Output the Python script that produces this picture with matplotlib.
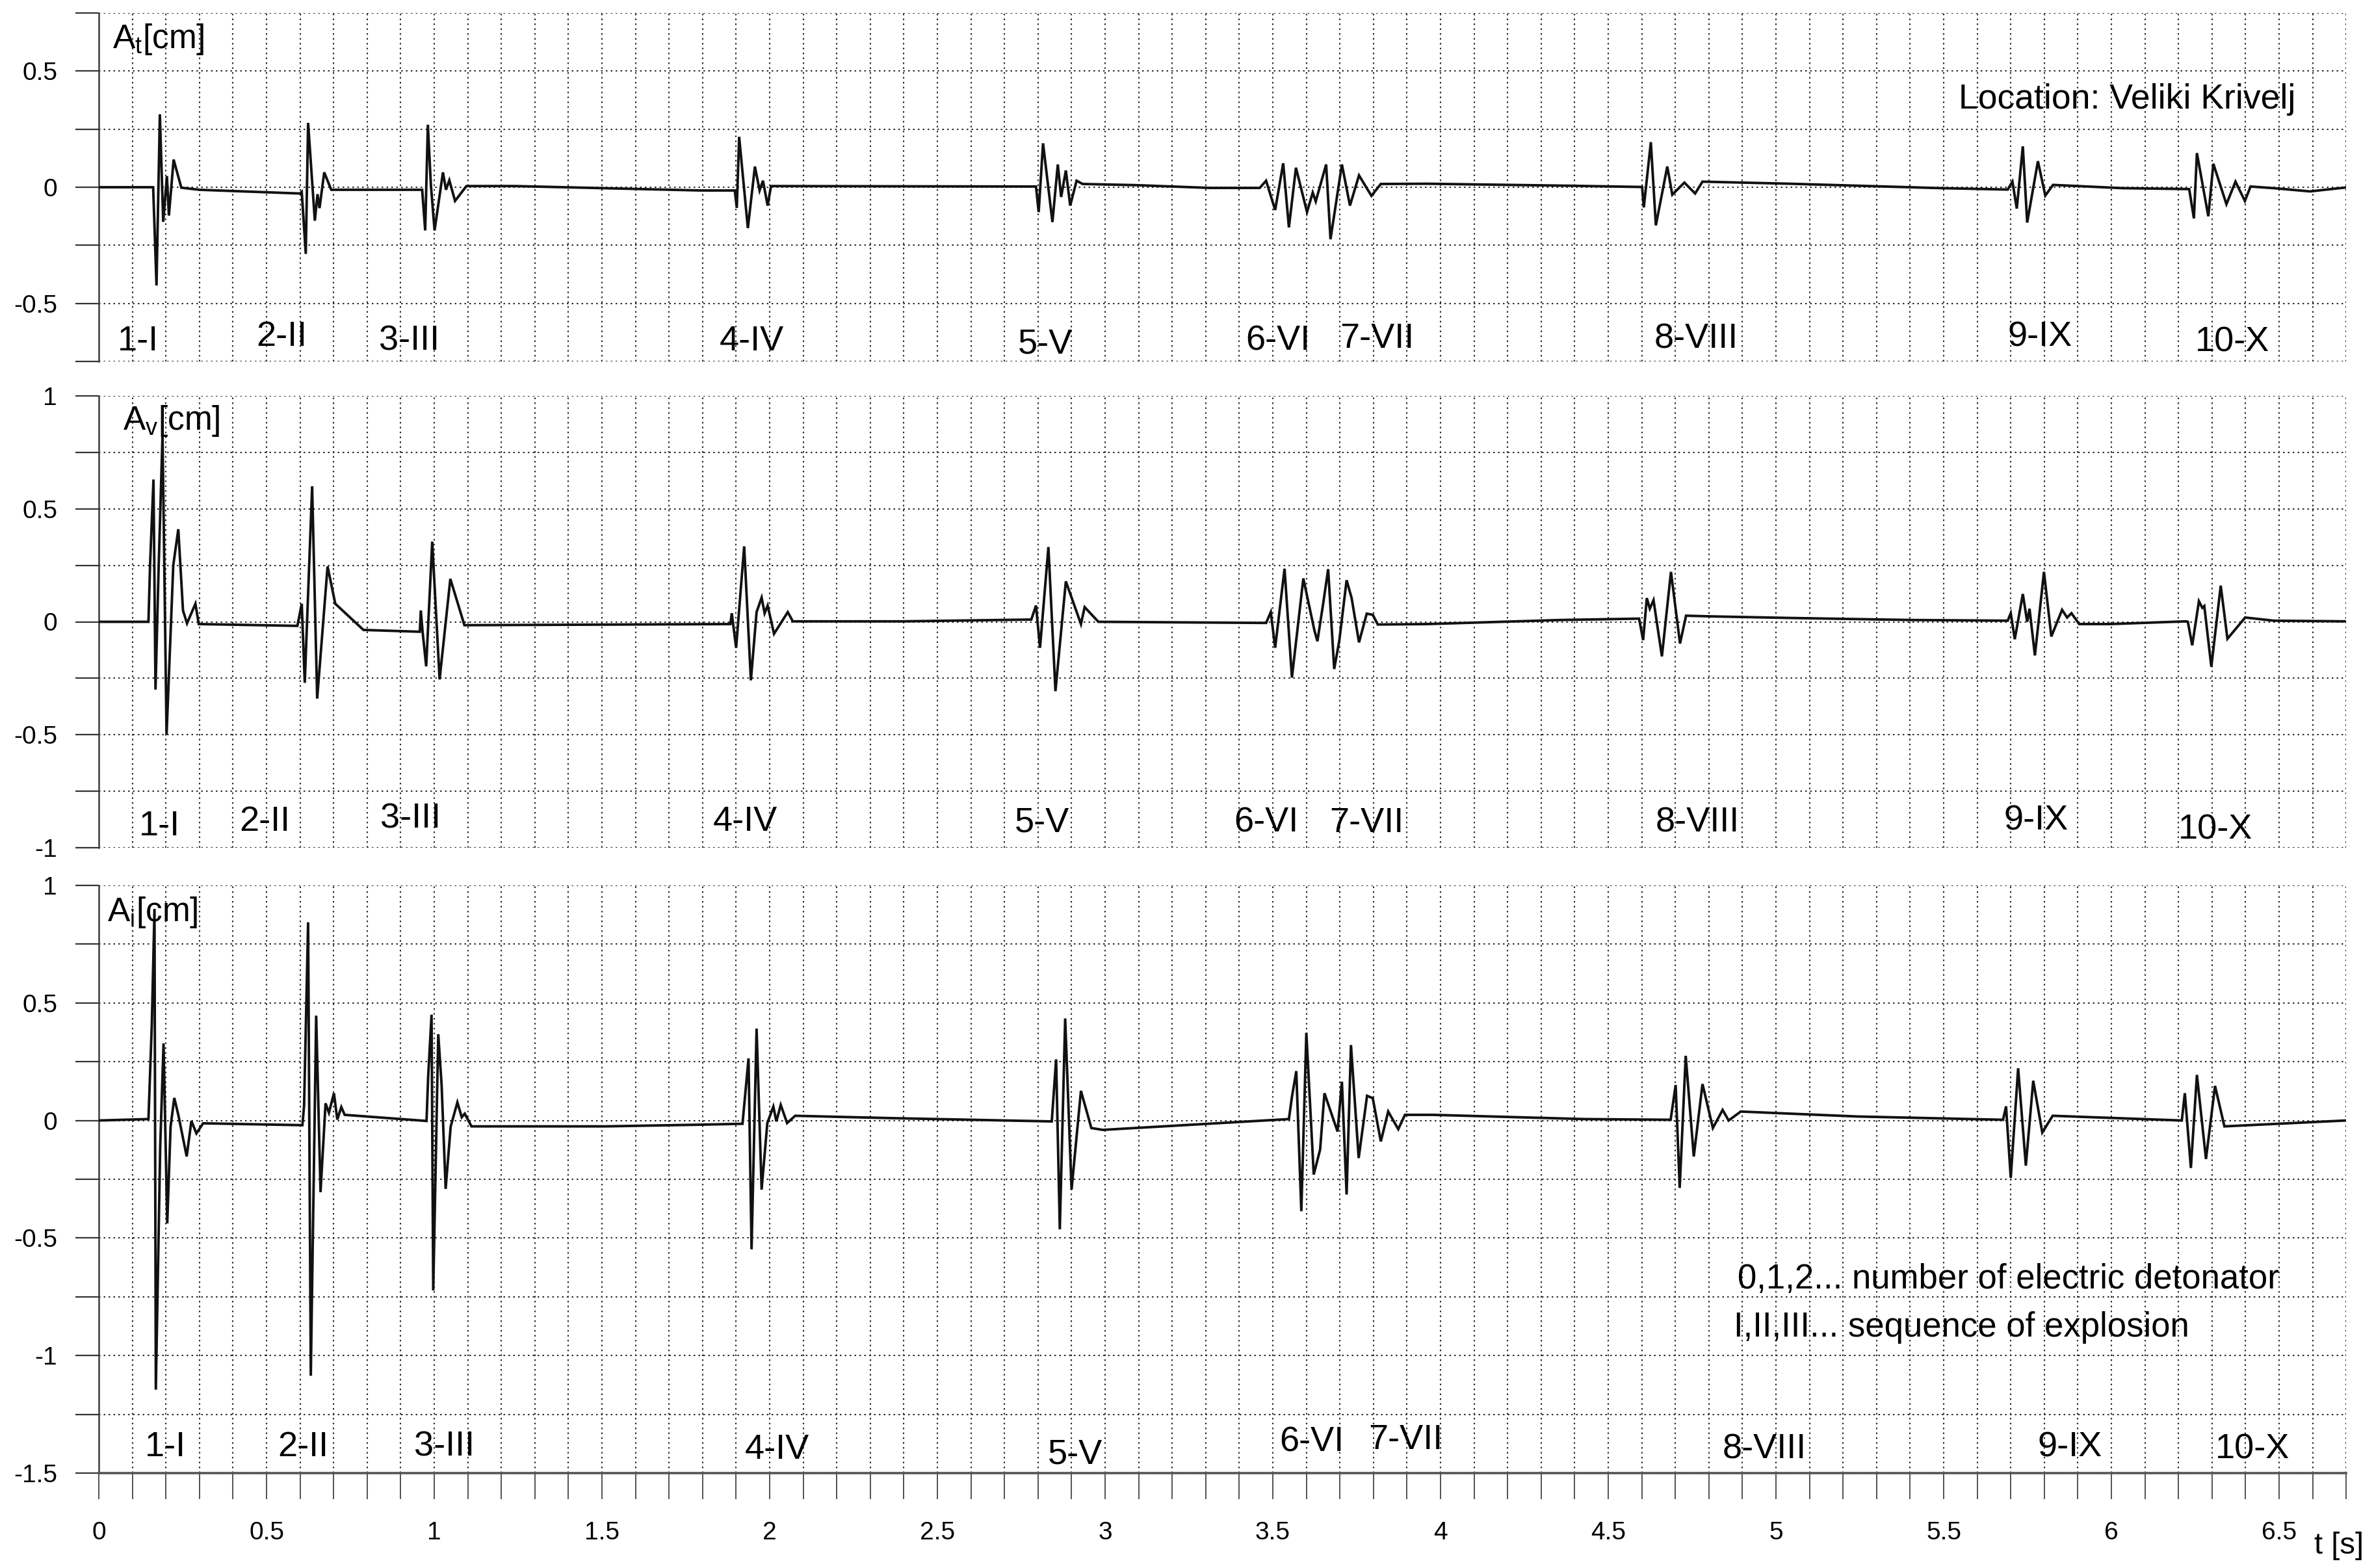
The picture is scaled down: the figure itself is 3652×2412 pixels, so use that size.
import matplotlib
matplotlib.use("Agg")
import matplotlib.pyplot as plt
from matplotlib.ticker import MultipleLocator, FuncFormatter

plt.rcParams['font.family'] = ['Liberation Sans', 'DejaVu Sans']
plt.rcParams['mathtext.fontset'] = 'custom'
plt.rcParams['mathtext.rm'] = 'Liberation Sans'
plt.rcParams['mathtext.default'] = 'regular'

# --- traced seismograms (time in s, amplitude in cm), one event per row ---
t_at = [0.000, 0.162,
        0.172, 0.182, 0.192, 0.203, 0.209, 0.223, 0.246, 0.300, 0.600,
        0.605, 0.617, 0.624, 0.644, 0.652, 0.658, 0.672, 0.693, 0.964,
        0.973, 0.981, 0.990, 1.001, 1.026, 1.035, 1.045, 1.062, 1.096, 1.240, 1.794, 1.896,
        1.902, 1.909, 1.935, 1.956, 1.970, 1.980, 1.994, 2.004, 2.794,
        2.802, 2.815, 2.843, 2.859, 2.869, 2.883, 2.896, 2.915, 2.933, 3.091, 3.313, 3.461,
        3.480, 3.507, 3.531, 3.548, 3.569, 3.602, 3.619, 3.628, 3.659, 3.672, 3.706, 3.730,
        3.757, 3.794, 3.822, 3.961, 4.403, 4.601,
        4.606, 4.627, 4.642, 4.676, 4.691, 4.727, 4.759, 4.781, 5.042, 5.493, 5.691,
        5.705, 5.718, 5.736, 5.749, 5.781, 5.803, 5.826, 6.033, 6.232,
        6.246, 6.255, 6.289, 6.304, 6.343, 6.370, 6.398, 6.415, 6.484, 6.592, 6.700]
a_at = [0.000, 0.000,
        -0.423, 0.314, -0.149, 0.048, -0.122, 0.119, -0.002, -0.011, -0.027,
        -0.020, -0.287, 0.277, -0.144, -0.030, -0.090, 0.064, -0.011, -0.011,
        -0.186, 0.269, 0.010, -0.186, 0.064, -0.011, 0.030, -0.059, 0.005, 0.005, -0.014, -0.014,
        -0.089, 0.217, -0.176, 0.089, -0.014, 0.028, -0.079, 0.005, 0.003,
        -0.107, 0.189, -0.150, 0.098, -0.042, 0.072, -0.079, 0.028, 0.014, 0.009, -0.003, -0.003,
        0.028, -0.098, 0.103, -0.173, 0.084, -0.107, -0.023, -0.061, 0.098, -0.224, 0.098, -0.079,
        0.051, -0.037, 0.014, 0.015, 0.006, 0.001,
        -0.087, 0.194, -0.164, 0.089, -0.032, 0.020, -0.027, 0.024, 0.015, -0.004, -0.010,
        0.024, -0.092, 0.176, -0.152, 0.112, -0.036, 0.010, -0.004, -0.008,
        -0.134, 0.147, -0.125, 0.101, -0.073, 0.024, -0.059, 0.003, -0.004, -0.018, -0.001]

t_av = [0.000, 0.148,
        0.153, 0.163, 0.169, 0.178, 0.190, 0.202, 0.222, 0.237, 0.251, 0.263, 0.288, 0.298, 0.592,
        0.605, 0.614, 0.636, 0.651, 0.682, 0.705, 0.789, 0.957,
        0.960, 0.965, 0.976, 0.994, 1.016, 1.048, 1.090, 1.883,
        1.887, 1.900, 1.924, 1.944, 1.961, 1.976, 1.985, 1.994, 2.013, 2.054, 2.069, 2.396, 2.780,
        2.794, 2.806, 2.831, 2.852, 2.883, 2.928, 2.939, 2.980, 3.480,
        3.494, 3.507, 3.535, 3.557, 3.591, 3.624, 3.633, 3.650, 3.665, 3.683, 3.698, 3.720,
        3.735, 3.757, 3.780, 3.798, 3.813, 3.961, 4.358, 4.592,
        4.604, 4.615, 4.624, 4.635, 4.660, 4.687, 4.714, 4.732, 4.807, 5.042, 5.403, 5.691,
        5.700, 5.712, 5.736, 5.749, 5.756, 5.772, 5.799, 5.821, 5.853, 5.868, 5.881, 5.904, 5.997, 6.223,
        6.228, 6.241, 6.261, 6.271, 6.277, 6.298, 6.326, 6.346, 6.399, 6.484, 6.700]
a_av = [0.000, 0.000,
        0.260, 0.630, -0.300, 0.220, 0.830, -0.500, 0.250, 0.410, 0.050, -0.007, 0.080, -0.010, -0.018,
        0.080, -0.270, 0.600, -0.340, 0.245, 0.080, -0.036, -0.044,
        0.050, -0.040, -0.197, 0.355, -0.255, 0.190, -0.015, -0.010,
        0.038, -0.115, 0.334, -0.259, 0.043, 0.107, 0.038, 0.072, -0.053, 0.043, 0.002, 0.002, 0.010,
        0.072, -0.115, 0.331, -0.307, 0.179, -0.010, 0.065, 0.000, -0.005,
        0.043, -0.115, 0.235, -0.247, 0.192, -0.038, -0.086, 0.079, 0.233, -0.209, -0.086, 0.184,
        0.105, -0.091, 0.036, 0.031, -0.012, -0.010, 0.008, 0.014,
        -0.081, 0.105, 0.058, 0.096, -0.153, 0.221, -0.096, 0.027, 0.024, 0.017, 0.008, 0.005,
        0.038, -0.077, 0.123, 0.000, 0.058, -0.149, 0.221, -0.065, 0.053, 0.019, 0.038, -0.010, -0.010, 0.002,
        0.000, -0.104, 0.091, 0.062, 0.070, -0.199, 0.160, -0.075, 0.019, 0.005, 0.002]

t_ai = [0.000, 0.148,
        0.158, 0.166, 0.170, 0.183, 0.193, 0.204, 0.214, 0.225, 0.237, 0.262, 0.276, 0.291, 0.311, 0.607,
        0.612, 0.624, 0.632, 0.648, 0.661, 0.676, 0.686, 0.701, 0.711, 0.723, 0.733, 0.977,
        0.982, 0.992, 0.997, 1.012, 1.022, 1.034, 1.049, 1.069, 1.082, 1.091, 1.111, 1.511, 1.789, 1.919,
        1.937, 1.946, 1.961, 1.976, 1.993, 2.011, 2.020, 2.033, 2.052, 2.076, 2.363, 2.841,
        2.854, 2.865, 2.881, 2.900, 2.928, 2.959, 2.993, 3.548,
        3.557, 3.570, 3.585, 3.600, 3.622, 3.641, 3.654, 3.693, 3.706, 3.720, 3.733, 3.756,
        3.781, 3.798, 3.822, 3.844, 3.874, 3.894, 3.977, 4.429, 4.686,
        4.701, 4.713, 4.731, 4.755, 4.781, 4.812, 4.841, 4.859, 4.895, 5.242, 5.677,
        5.686, 5.700, 5.722, 5.745, 5.767, 5.794, 5.825, 6.210,
        6.219, 6.237, 6.255, 6.282, 6.309, 6.337, 6.700]
a_ai = [0.000, 0.006,
        0.407, 0.900, -1.145, -0.114, 0.328, -0.438, -0.026, 0.096, 0.024, -0.153, -0.002, -0.055, -0.012, -0.020,
        0.063, 0.843, -1.086, 0.446, -0.305, 0.073, 0.033, 0.116, 0.004, 0.057, 0.024, -0.002,
        0.190, 0.450, -0.723, 0.367, 0.151, -0.291, -0.026, 0.077, 0.014, 0.029, -0.025, -0.025, -0.018, -0.014,
        0.264, -0.548, 0.391, -0.294, -0.011, 0.059, -0.004, 0.066, -0.011, 0.020, 0.010, -0.004,
        0.260, -0.463, 0.434, -0.294, 0.126, -0.032, -0.040, 0.006,
        0.100, 0.210, -0.386, 0.373, -0.230, -0.124, 0.116, -0.047, 0.165, -0.315, 0.321, -0.160,
        0.105, 0.095, -0.089, 0.038, -0.037, 0.024, 0.024, 0.006, 0.003,
        0.151, -0.287, 0.275, -0.153, 0.155, -0.032, 0.045, 0.000, 0.038, 0.017, 0.003,
        0.060, -0.244, 0.222, -0.192, 0.169, -0.051, 0.020, 0.000,
        0.116, -0.202, 0.194, -0.164, 0.147, -0.025, 0.000]

# detonator / sequence tags and where they sit in each panel (t, amplitude)
event_labels = ['1-I', '2-II', '3-III', '4-IV', '5-V', '6-VI', '7-VII', '8-VIII', '9-IX', '10-X']
label_t_at = [0.055, 0.470, 0.836, 1.850, 2.740, 3.420, 3.700, 4.637, 5.691, 6.250]
label_a_at = [-0.662, -0.645, -0.662, -0.662, -0.676, -0.662, -0.653, -0.653, -0.645, -0.667]
label_t_av = [0.119, 0.419, 0.840, 1.830, 2.730, 3.385, 3.670, 4.640, 5.680, 6.200]
label_a_av = [-0.906, -0.886, -0.872, -0.885, -0.890, -0.890, -0.890, -0.890, -0.880, -0.920]
label_t_ai = [0.138, 0.533, 0.940, 1.925, 2.830, 3.520, 3.785, 4.840, 5.780, 6.310]
label_a_ai = [-1.388, -1.388, -1.388, -1.400, -1.420, -1.370, -1.360, -1.400, -1.390, -1.400]

T_MAX = 6.7
W, H = 3652, 2412
fig = plt.figure(figsize=(W / 100, H / 100), dpi=100, facecolor='white')

fmt = FuncFormatter(lambda v, pos: f"{v:g}")


def draw_panel(rect, t, a, ylim, name, lab_t, lab_a, lab_pos, bottom=False):
    assert len(t) == len(a)
    ax = fig.add_axes(rect)
    ax.plot(t, a, color='#111111', lw=2.8, solid_joinstyle='miter', zorder=3)
    ax.set_xlim(0, T_MAX)
    ax.set_ylim(*ylim)
    ax.xaxis.set_major_locator(MultipleLocator(0.5))
    ax.xaxis.set_minor_locator(MultipleLocator(0.1))
    ax.yaxis.set_major_locator(MultipleLocator(0.5))
    ax.yaxis.set_minor_locator(MultipleLocator(0.25))
    ax.yaxis.set_major_formatter(fmt)
    ax.xaxis.set_major_formatter(fmt)
    ax.grid(True, which='both', color='#2e2e2e', linestyle=(0, (1.2, 2.4)), linewidth=1.5, zorder=0)
    for side in ('top', 'right'):
        ax.spines[side].set_visible(False)
    ax.spines['left'].set_color('#3a3a3a')
    ax.spines['left'].set_linewidth(1.8)
    ax.tick_params(axis='y', which='both', direction='out', length=26, width=1.6,
                   color='#333333', pad=20, labelsize=28)
    if bottom:
        ax.spines['bottom'].set_color('#555555')
        ax.spines['bottom'].set_linewidth(2.6)
        ax.tick_params(axis='x', which='both', direction='out', length=29, width=1.3,
                       color='#444444', pad=24, labelsize=28)
    else:
        ax.spines['bottom'].set_visible(False)
        ax.tick_params(axis='x', which='both', length=0, labelbottom=False)
    ax.text(lab_pos[0], lab_pos[1], name, fontsize=37, ha='left', va='baseline')
    for s, x, y in zip(event_labels, lab_t, lab_a):
        ax.text(x, y, s, fontsize=39, ha='left', va='center')
    return ax


left, width = 152 / W, T_MAX * 516 / W
ax1 = draw_panel([left, 1 - 556 / H, width, 536 / H], t_at, a_at, (-0.75, 0.75),
                 r'A$_t$[cm]', label_t_at, label_a_at, (0.04, 0.60))
ax2 = draw_panel([left, 1 - 1304 / H, width, 695 / H], t_av, a_av, (-1, 1),
                 r'A$_v$[cm]', label_t_av, label_a_av, (0.072, 0.85))
ax3 = draw_panel([left, 1 - 2266 / H, width, 904 / H], t_ai, a_ai, (-1.5, 1),
                 r'A$_i$[cm]', label_t_ai, label_a_ai, (0.025, 0.848), bottom=True)

ax1.text(5.545, 0.339, 'Location: Veliki Krivelj', fontsize=38.5, ha='left', va='baseline')
ax3.text(4.886, -0.715, '0,1,2... number of electric detonator', fontsize=38, ha='left', va='baseline')
ax3.text(4.874, -0.918, 'I,II,III... sequence of explosion', fontsize=38, ha='left', va='baseline')

fig.text(3598 / W, 1 - 2378 / H, 't [s]', fontsize=34, ha='center', va='center')

fig.savefig('out.png', dpi=100, facecolor='white')
